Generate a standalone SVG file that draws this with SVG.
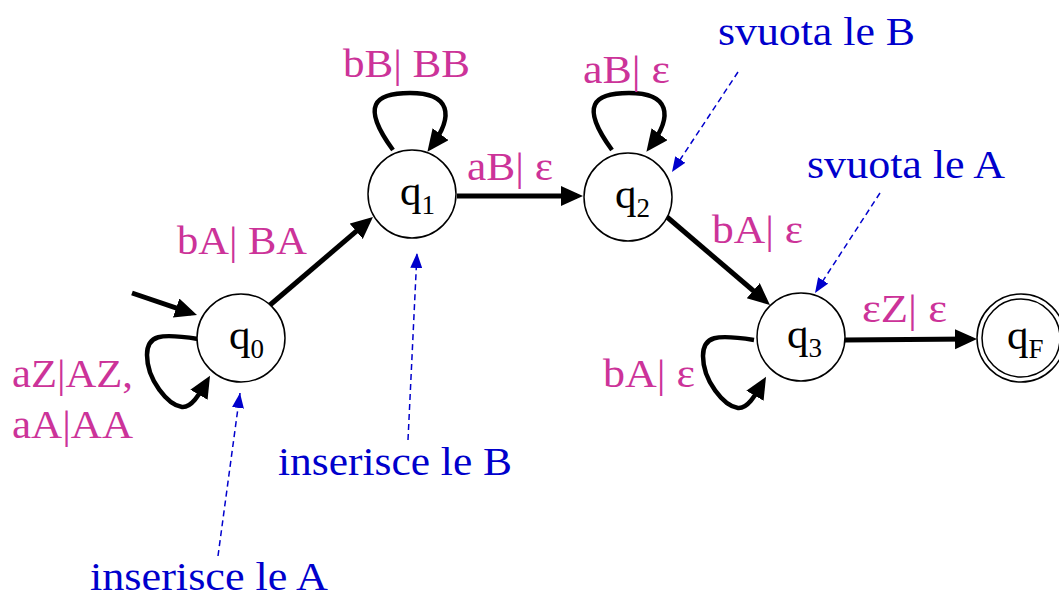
<svg xmlns="http://www.w3.org/2000/svg" width="1059" height="599" viewBox="0 0 1059 599">
<defs>
<style>
.node circle{fill:#fff;stroke:#000;stroke-width:1.5}
.nl{font-family:"Liberation Serif","Times New Roman",serif;font-size:43px;fill:#000}
.sub{font-size:27px}
.lbl{font-family:"Liberation Serif","Times New Roman",serif;font-size:40px;fill:#CC3399}
.note{font-family:"Liberation Serif","Times New Roman",serif;font-size:40px;fill:#0000CC}
.edge{fill:none;stroke:#000;stroke-width:5;marker-end:url(#ah)}
.loop{fill:none;stroke:#000;stroke-width:4.5;marker-end:url(#ah)}
.ptr{fill:none;stroke:#0000CC;stroke-width:1.5;stroke-dasharray:6,4;marker-end:url(#bh)}
</style>
<marker id="ah" markerUnits="userSpaceOnUse" markerWidth="24" markerHeight="22" refX="16" refY="10" orient="auto">
<path d="M0,0 L22,10 L0,20 z" fill="#000"/>
</marker>
<marker id="bh" markerUnits="userSpaceOnUse" markerWidth="16" markerHeight="12" refX="15" refY="6" orient="auto">
<path d="M0,0 L15,6 L0,12 z" fill="#0000CC"/>
</marker>
</defs>
<rect width="1059" height="599" fill="#fff"/>
<g id="connectors">
<path class="edge" d="M132,293 L191.3,313.1"/>
<path class="edge" d="M270,305 L368.4,220.9"/>
<path class="edge" d="M457,196 L577,196"/>
<path class="edge" d="M667,217 L765.4,301.1"/>
<path class="edge" d="M845,340 L971,339"/>
<path class="loop" d="M198,339 C160,333 147,335 147,355 C147,380 168,405 182,407 C192,408 200,393 207,381"/>
<path class="loop" d="M393,150 C360,105 375,93 410,93 C450,93 455,115 431,147"/>
<path class="loop" d="M612,150 C579,105 594,93 629,93 C669,93 674,115 650,147"/>
<path class="loop" transform="translate(556,1)" d="M198,339 C160,333 147,335 147,355 C147,380 168,405 182,407 C192,408 200,393 207,381"/>
<path class="ptr" d="M218,556 L240,393"/>
<path class="ptr" d="M408,440 L417,253"/>
<path class="ptr" d="M738,72 L672,172"/>
<path class="ptr" d="M880,193 L815,293"/>
</g>
<g id="q0" class="node"><circle cx="241" cy="338" r="44"/><text class="nl" x="229" y="349">q<tspan class="sub" dy="9">0</tspan></text></g>
<g id="q1" class="node"><circle cx="412" cy="194" r="44"/><text class="nl" x="400" y="205">q<tspan class="sub" dy="9">1</tspan></text></g>
<g id="q2" class="node"><circle cx="628" cy="197" r="44"/><text class="nl" x="615" y="208">q<tspan class="sub" dy="9">2</tspan></text></g>
<g id="q3" class="node"><circle cx="801" cy="337" r="44"/><text class="nl" x="787" y="348">q<tspan class="sub" dy="9">3</tspan></text></g>
<g id="qF" class="node"><circle cx="1021" cy="338" r="44"/><circle cx="1021" cy="338" r="39"/><text class="nl" x="1007" y="349">q<tspan class="sub" dy="9">F</tspan></text></g>
<g id="labels">
<text class="lbl" x="343" y="77" textLength="127" lengthAdjust="spacingAndGlyphs">bB| BB</text>
<text class="lbl" x="583" y="83" textLength="87" lengthAdjust="spacingAndGlyphs">aB| ε</text>
<text class="lbl" x="467" y="180" textLength="86" lengthAdjust="spacingAndGlyphs">aB| ε</text>
<text class="lbl" x="712" y="243" textLength="91" lengthAdjust="spacingAndGlyphs">bA| ε</text>
<text class="lbl" x="862" y="322" textLength="85" lengthAdjust="spacingAndGlyphs">εZ| ε</text>
<text class="lbl" x="603" y="387" textLength="92" lengthAdjust="spacingAndGlyphs">bA| ε</text>
<text class="lbl" x="177" y="254" textLength="130" lengthAdjust="spacingAndGlyphs">bA| BA</text>
<text class="lbl" x="12" y="387" textLength="121" lengthAdjust="spacingAndGlyphs">aZ|AZ,</text>
<text class="lbl" x="12" y="438" textLength="121" lengthAdjust="spacingAndGlyphs">aA|AA</text>
<text class="note" x="718" y="45" textLength="197" lengthAdjust="spacingAndGlyphs">svuota le B</text>
<text class="note" x="807" y="178" textLength="198" lengthAdjust="spacingAndGlyphs">svuota le A</text>
<text class="note" x="278" y="475" textLength="234" lengthAdjust="spacingAndGlyphs">inserisce le B</text>
<text class="note" x="90" y="590" textLength="238" lengthAdjust="spacingAndGlyphs">inserisce le A</text>
</g>
</svg>
